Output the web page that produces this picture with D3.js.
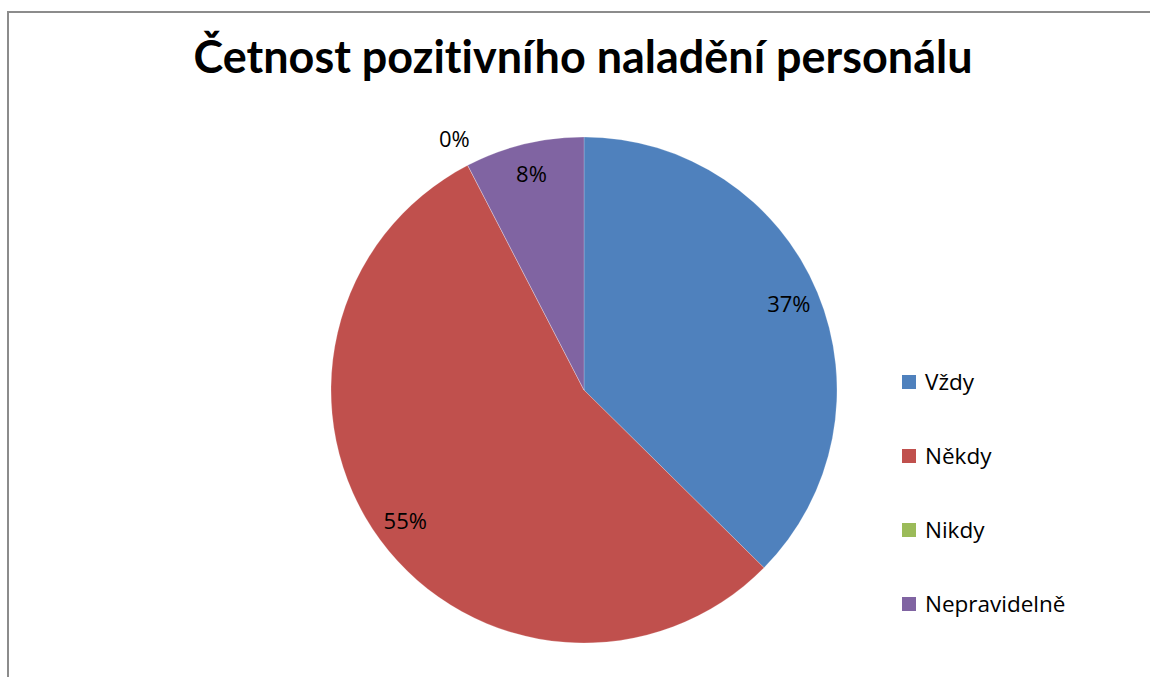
<!DOCTYPE html>
<html>
<head>
<meta charset="utf-8">
<script src="https://cdn.jsdelivr.net/npm/d3@7"></script>
<style>
  body { margin: 0; background: #fff; }
  svg { display: block; }
  text { font-variant-ligatures: none; }
</style>
</head>
<body>
<div id="chart"></div>
<script>
// chart data
const title = 'Četnost pozitivního naladění personálu';
const categories = ['Vždy', 'Někdy', 'Nikdy', 'Nepravidelně'];
const values = [37.4, 55.0, 0, 7.6];
const colors = ['#4F81BD', '#C0504D', '#9BBB59', '#8064A2'];

const width = 1150, height = 677;
const titleFont = 'Lato, sans-serif';
const font = '"Open Sans", sans-serif';

const svg = d3.select('#chart').append('svg')
  .attr('width', width)
  .attr('height', height);

// chart area frame (only left and top edges are in view)
svg.append('path')
  .attr('d', `M8,${height + 5} V12 H${width + 5}`)
  .attr('fill', 'none')
  .attr('stroke', '#8c8c8c')
  .attr('stroke-width', 2);

// title
svg.append('text')
  .attr('x', 583)
  .attr('y', 73)
  .attr('text-anchor', 'middle')
  .attr('textLength', 779)
  .attr('lengthAdjust', 'spacingAndGlyphs')
  .style('font-family', titleFont)
  .style('font-weight', 'bold')
  .style('font-size', '46px')
  .style('fill', '#000')
  .text(title);

const cx = 584, cy = 390, radius = 253;
const total = d3.sum(values);

const pie = d3.pie().sort(null).value((d) => d);
const arcs = pie(values);
const arc = d3.arc().innerRadius(0).outerRadius(radius);

const g = svg.append('g').attr('transform', `translate(${cx},${cy})`);

g.selectAll('path.slice')
  .data(arcs)
  .enter()
  .append('path')
  .attr('class', 'slice')
  .attr('d', arc)
  .style('fill', (d, i) => colors[i])
  .style('stroke', 'rgba(255,255,255,0.35)')
  .style('stroke-width', 0.6);

// data labels: inside for real slices, outside for the empty one
const insideArc = d3.arc().innerRadius(222).outerRadius(222);
const outsideArc = d3.arc().innerRadius(282).outerRadius(282);

g.selectAll('text.label')
  .data(arcs)
  .enter()
  .append('text')
  .attr('class', 'label')
  .attr('transform', (d) => {
    const a = d.endAngle - d.startAngle > 0.01 ? insideArc : outsideArc;
    return `translate(${a.centroid(d)})`;
  })
  .attr('text-anchor', 'middle')
  .attr('dy', '0.35em')
  .style('font-family', font)
  .style('font-size', '22px')
  .style('fill', '#000')
  .text((d) => Math.round(d.data / total * 100) + '%');

// legend
const legendY = d3.scalePoint()
  .domain(categories)
  .range([382, 604]);

const legend = svg.append('g')
  .selectAll('g')
  .data(categories)
  .enter()
  .append('g')
  .attr('transform', (d) => `translate(902,${legendY(d)})`);

legend.append('rect')
  .attr('x', 0)
  .attr('y', -7)
  .attr('width', 14)
  .attr('height', 14)
  .style('fill', (d, i) => colors[i]);

legend.append('text')
  .attr('x', 23)
  .attr('dy', '0.35em')
  .style('font-family', font)
  .style('font-size', '22.5px')
  .style('fill', '#000')
  .text((d) => d);
</script>
</body>
</html>
